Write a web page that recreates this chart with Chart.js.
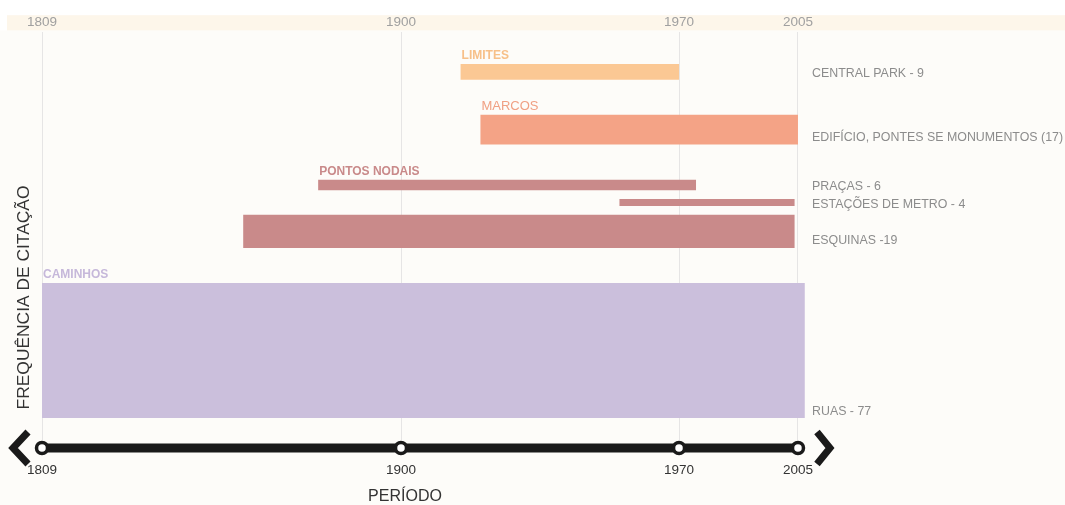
<!DOCTYPE html>
<html>
<head>
<meta charset="utf-8">
<script src="https://cdn.jsdelivr.net/npm/chart.js@4.4.0/dist/chart.umd.min.js"></script>
<style>
  html, body { margin: 0; padding: 0; background: #fdfcfa; }
  #wrap { width: 1065px; height: 505px; position: relative; }
</style>
</head>
<body>
<div id="wrap"><canvas id="chart"></canvas></div>
<script>
// Elements of the urban image, listed top to bottom
const categories = ['CENTRAL PARK', 'EDIFÍCIO, PONTES SE MONUMENTOS', 'PRAÇAS', 'ESTAÇÕES DE METRO', 'ESQUINAS', 'RUAS'];
const itemLabels = ['CENTRAL PARK - 9', 'EDIFÍCIO, PONTES SE MONUMENTOS (17)', 'PRAÇAS - 6', 'ESTAÇÕES DE METRO - 4', 'ESQUINAS -19', 'RUAS - 77'];
const groups = ['LIMITES', 'MARCOS', 'PONTOS NODAIS', 'PONTOS NODAIS', 'PONTOS NODAIS', 'CAMINHOS'];
// Citation frequency (sets the thickness of each band)
const citations = [9, 17, 6, 4, 19, 77];
// Period covered by each element
const startYears = [1915, 1920, 1879, 1955, 1860, 1809];
const endYears = [1970, 2005, 1975, 2004, 2004, 2007];
// Period ticks
const periodTicks = [1809, 1900, 1970, 2005];

const FONT = "'Liberation Sans', Arial, Helvetica, sans-serif";

const groupStyle = {
  'LIMITES':       { bar: '#fbc894', text: '#f7c089', weight: 'bold',   size: 12 },
  'MARCOS':        { bar: '#f4a386', text: '#f0a083', weight: 'normal', size: 13 },
  'PONTOS NODAIS': { bar: '#c98a8a', text: '#c98a8a', weight: 'bold',   size: 12 },
  'CAMINHOS':      { bar: '#cbbfdc', text: '#c6b8da', weight: 'bold',   size: 12 }
};

// Vertical stacking of the bands, in citation units
const INNER_GAP = 5;   // between elements of the same group
const GROUP_GAP = 20;  // between groups
const bands = [];
{
  let cursor = 0;
  for (let i = categories.length - 1; i >= 0; i--) {
    if (i < categories.length - 1) cursor += groups[i] === groups[i + 1] ? INNER_GAP : GROUP_GAP;
    bands[i] = [cursor, cursor + citations[i]];
    cursor += citations[i];
  }
}

// Linear scale made of several linear segments between break values
class SegmentedScale extends Chart.LinearScale {
  static id = 'segmented';
  static defaults = {};
  _toDecimal(value) {
    const breaks = this.options.breaks, stops = this.options.stops;
    const n = breaks.length;
    let i = 1;
    while (i < n - 1 && value > breaks[i]) i++;
    return stops[i - 1] + (value - breaks[i - 1]) / (breaks[i] - breaks[i - 1]) * (stops[i] - stops[i - 1]);
  }
  getPixelForValue(value) {
    if (value === null || value === undefined || isNaN(value)) return NaN;
    return this.getPixelForDecimal(this._toDecimal(value));
  }
  getValueForPixel(pixel) {
    const d = this.getDecimalForPixel(pixel);
    const breaks = this.options.breaks, stops = this.options.stops;
    const n = stops.length;
    let i = 1;
    while (i < n - 1 && d > stops[i]) i++;
    return breaks[i - 1] + (d - stops[i - 1]) / (stops[i] - stops[i - 1]) * (breaks[i] - breaks[i - 1]);
  }
}
Chart.register(SegmentedScale);

const decorations = {
  id: 'decorations',
  beforeDraw(chart) {
    const { ctx, width, height } = chart;
    const xs = chart.scales.x;
    ctx.save();
    ctx.fillStyle = '#ffffff';
    ctx.fillRect(0, 0, width, height);
    ctx.fillStyle = '#fdfcf9';
    ctx.fillRect(0, xs.bottom - 2, width, height);
    ctx.fillStyle = '#fdf6ea';
    ctx.fillRect(7, xs.top + 3, width - 7, xs.bottom - xs.top - 5);
    ctx.restore();
  },
  afterDraw(chart) {
    const { ctx, chartArea } = chart;
    const xs = chart.scales.x, ys = chart.scales.y;
    ctx.save();

    // group names above the first band of each group
    groups.forEach((g, i) => {
      if (i > 0 && groups[i - 1] === g) return;
      const st = groupStyle[g];
      ctx.font = `${st.weight} ${st.size}px ${FONT}`;
      ctx.fillStyle = st.text;
      ctx.textAlign = 'left';
      ctx.textBaseline = 'alphabetic';
      ctx.fillText(g, xs.getPixelForValue(startYears[i]) + 1, ys.getPixelForValue(bands[i][1]) - 5);
    });

    // element names to the right
    ctx.font = `12.4px ${FONT}`;
    ctx.fillStyle = '#8c8c8c';
    ctx.textAlign = 'left';
    ctx.textBaseline = 'middle';
    itemLabels.forEach((t, i) => {
      const yb = ys.getPixelForValue(bands[i][0]);
      const yt = ys.getPixelForValue(bands[i][1]);
      const yc = Math.max((yb + yt) / 2 + 2, yb - 7);
      ctx.fillText(t, chartArea.right + 6, yc);
    });

    // vertical axis title
    ctx.save();
    ctx.translate(24.5, 297.5);
    ctx.rotate(-Math.PI / 2);
    ctx.font = `17.4px ${FONT}`;
    ctx.fillStyle = '#333333';
    ctx.textAlign = 'center';
    ctx.textBaseline = 'middle';
    ctx.fillText('FREQUÊNCIA DE CITAÇÃO', 0, 0);
    ctx.restore();

    // period timeline
    const ty = chartArea.bottom + 8;
    const x0 = xs.getPixelForValue(periodTicks[0]);
    const x1 = xs.getPixelForValue(periodTicks[periodTicks.length - 1]);
    ctx.fillStyle = '#1a1a1a';
    ctx.fillRect(x0, ty - 4.5, x1 - x0, 9);

    ctx.strokeStyle = '#1a1a1a';
    ctx.lineWidth = 7;
    ctx.lineJoin = 'miter';
    ctx.lineCap = 'butt';
    ctx.beginPath();
    ctx.moveTo(x0 - 14, ty - 16);
    ctx.lineTo(x0 - 29, ty);
    ctx.lineTo(x0 - 14, ty + 16);
    ctx.stroke();
    ctx.beginPath();
    ctx.moveTo(x1 + 19, ty - 16);
    ctx.lineTo(x1 + 32, ty);
    ctx.lineTo(x1 + 19, ty + 16);
    ctx.stroke();

    ctx.lineWidth = 3.5;
    ctx.font = `13.5px ${FONT}`;
    ctx.textAlign = 'center';
    ctx.textBaseline = 'middle';
    periodTicks.forEach(v => {
      const px = xs.getPixelForValue(v);
      ctx.beginPath();
      ctx.arc(px, ty, 5.5, 0, Math.PI * 2);
      ctx.fillStyle = '#ffffff';
      ctx.fill();
      ctx.stroke();
      ctx.fillStyle = '#333333';
      ctx.fillText(String(v), px, ty + 22);
    });

    ctx.font = `16px ${FONT}`;
    ctx.fillStyle = '#333333';
    ctx.fillText('PERÍODO', 405, ty + 49);
    ctx.restore();
  }
};

new Chart(document.getElementById('chart'), {
  type: 'line',
  data: {
    datasets: categories.map((c, i) => ({
      label: c,
      data: [
        { x: startYears[i], y: bands[i][0] },
        { x: endYears[i], y: bands[i][0] },
        { x: endYears[i], y: bands[i][1] },
        { x: startYears[i], y: bands[i][1] }
      ],
      backgroundColor: groupStyle[groups[i]].bar,
      borderColor: 'rgba(0,0,0,0)',
      borderWidth: 0,
      pointRadius: 0,
      pointHoverRadius: 0,
      tension: 0,
      fill: 'shape',
      clip: false
    }))
  },
  options: {
    responsive: true,
    maintainAspectRatio: false,
    animation: false,
    events: [],
    layout: { padding: { left: 42, right: 259, top: 12.2, bottom: 65 } },
    plugins: { legend: { display: false }, tooltip: { enabled: false } },
    scales: {
      x: {
        type: 'segmented',
        position: 'top',
        min: 1809,
        max: 2007.4,
        breaks: periodTicks,
        stops: [0, 0.4699, 0.8338, 0.9895],
        afterBuildTicks: s => { s.ticks = periodTicks.map(v => ({ value: v })); },
        ticks: {
          color: '#a0a0a0',
          font: { family: FONT, size: 13.5, lineHeight: 1.2 },
          padding: 2,
          maxRotation: 0,
          autoSkip: false,
          callback: v => String(v)
        },
        grid: { color: 'rgba(222,222,222,0.75)', lineWidth: 1, drawTicks: false },
        border: { display: false },
        z: 1
      },
      y: {
        type: 'linear',
        display: false,
        min: -12.5,
        max: 220
      }
    }
  },
  plugins: [decorations]
});
</script>
</body>
</html>
